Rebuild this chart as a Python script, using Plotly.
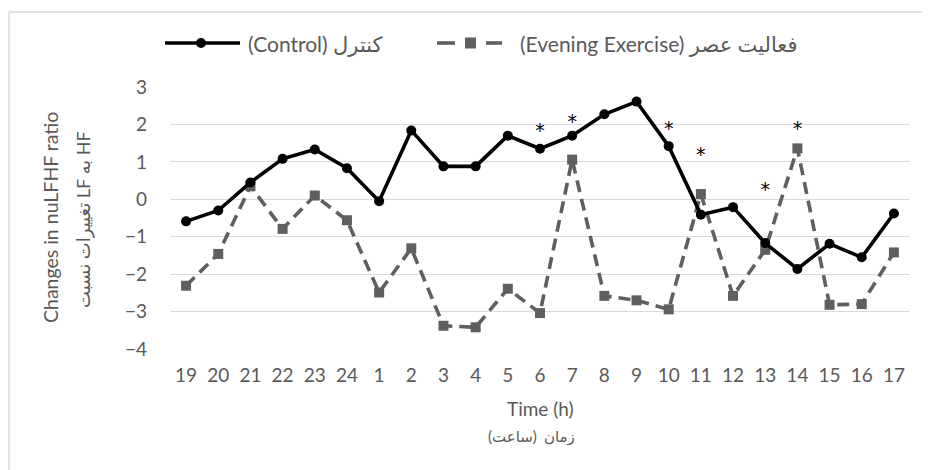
import plotly.graph_objects as go

hours = ["19", "20", "21", "22", "23", "24", "1", "2", "3", "4", "5", "6",
         "7", "8", "9", "10", "11", "12", "13", "14", "15", "16", "17"]
control = [-0.59, -0.30, 0.45, 1.08, 1.33, 0.83, -0.05, 1.84, 0.88, 0.88, 1.70, 1.35,
           1.70, 2.27, 2.61, 1.42, -0.41, -0.21, -1.17, -1.86, -1.19, -1.55, -0.38]
exercise = [-2.31, -1.46, 0.35, -0.79, 0.10, -0.56, -2.49, -1.31, -3.38, -3.42, -2.39, -3.04,
            1.06, -2.58, -2.70, -2.94, 0.14, -2.58, -1.35, 1.36, -2.82, -2.80, -1.42]
star_hours = ["6", "7", "10", "11", "13", "14"]
star_values = [1.94, 2.20, 2.00, 1.30, 0.37, 2.00]
y_ticks = [3, 2, 1, 0, -1, -2, -3, -4]

W, H = 930, 470
OFF = 8  # page body margin
# plot area in screen pixels
SL, ST, SR, SB = 170, 87, 910, 349
L, T = SL - OFF, ST - OFF
R, B = W - (SR - OFF), H - (SB - OFF)

def px(x):
    return (x - SL) / (SR - SL)

def py(y):
    return (SB - y) / (SB - ST)

FONT = "Lato, Calibri, 'DejaVu Sans', sans-serif"
GRAY = "#595959"
EXC = "#5f5f5f"

fig = go.Figure()
fig.add_trace(go.Scatter(
    x=hours, y=exercise, mode="lines+markers", name="exercise",
    line=dict(color=EXC, width=3.6, dash="12px,7px"),
    marker=dict(symbol="square", size=10, color=EXC),
    showlegend=False))
fig.add_trace(go.Scatter(
    x=hours, y=control, mode="lines+markers", name="control",
    line=dict(color="#000000", width=3.6),
    marker=dict(symbol="circle", size=10, color="#000000"),
    showlegend=False))
fig.add_trace(go.Scatter(
    x=star_hours, y=[v - 0.16 for v in star_values], mode="text", text=["*"] * len(star_hours),
    textfont=dict(family="'DejaVu Sans', sans-serif", size=19, color="#000000"), showlegend=False,
    hoverinfo="skip", cliponaxis=False))

shapes = []
# chart border (top and left)
shapes.append(dict(type="line", xref="paper", yref="paper", x0=px(9), x1=px(945), y0=py(12), y1=py(12),
                   line=dict(color="#e3e3e3", width=2)))
shapes.append(dict(type="line", xref="paper", yref="paper", x0=px(9), x1=px(9), y0=py(12), y1=py(485),
                   line=dict(color="#e3e3e3", width=2)))
# legend: control
ly = 43
shapes.append(dict(type="line", xref="paper", yref="paper", x0=px(165), x1=px(240), y0=py(ly), y1=py(ly),
                   line=dict(color="#000000", width=3.6)))
shapes.append(dict(type="circle", xref="paper", yref="paper", x0=px(196), x1=px(206), y0=py(ly - 5), y1=py(ly + 5),
                   fillcolor="#000000", line=dict(color="#000000", width=0)))
# legend: exercise
shapes.append(dict(type="line", xref="paper", yref="paper", x0=px(437), x1=px(455), y0=py(ly), y1=py(ly),
                   line=dict(color=EXC, width=3.6)))
shapes.append(dict(type="line", xref="paper", yref="paper", x0=px(486), x1=px(502), y0=py(ly), y1=py(ly),
                   line=dict(color=EXC, width=3.6)))
shapes.append(dict(type="rect", xref="paper", yref="paper", x0=px(465), x1=px(476), y0=py(ly - 5.5), y1=py(ly + 5.5),
                   fillcolor=EXC, line=dict(color=EXC, width=0)))

annotations = [
    dict(text="(Control) کنترل", x=px(246), y=py(ly + 1), xref="paper", yref="paper",
         xanchor="left", yanchor="middle", showarrow=False, font=dict(family=FONT, size=21, color=GRAY)),
    dict(text="(Evening Exercise) فعالیت عصر", x=px(518), y=py(ly + 1), xref="paper", yref="paper",
         xanchor="left", yanchor="middle", showarrow=False, font=dict(family=FONT, size=21, color=GRAY)),
    dict(text="Changes in nuLFHF ratio", x=px(50), y=py(218), xref="paper", yref="paper", textangle=-90,
         xanchor="center", yanchor="middle", showarrow=False, font=dict(family=FONT, size=19.5, color=GRAY)),
    dict(text="تغییرات نسبت LF به HF", x=px(83), y=py(220), xref="paper", yref="paper", textangle=-90,
         xanchor="center", yanchor="middle", showarrow=False, font=dict(family=FONT, size=18, color=GRAY)),
    dict(text="Time (h)", x=px(540), y=py(408), xref="paper", yref="paper",
         xanchor="center", yanchor="middle", showarrow=False, font=dict(family=FONT, size=19, color=GRAY)),
    # Persian x title laid out right-to-left: word on the right, parenthetical on the left
    dict(text="زمان", x=px(542), y=py(436), xref="paper", yref="paper",
         xanchor="left", yanchor="middle", showarrow=False, font=dict(family=FONT, size=15, color=GRAY)),
    dict(text="(ساعت)", x=px(539), y=py(436), xref="paper", yref="paper",
         xanchor="right", yanchor="middle", showarrow=False, font=dict(family=FONT, size=15, color=GRAY)),
]

fig.update_layout(
    width=W, height=H,
    margin=dict(l=L, r=R, t=T, b=B),
    paper_bgcolor="white", plot_bgcolor="white",
    showlegend=False,
    shapes=shapes, annotations=annotations,
    font=dict(family=FONT, color=GRAY),
    xaxis=dict(type="category", categoryorder="array", categoryarray=hours, range=[-0.5, 22.5],
               showgrid=False, showline=False, zeroline=False, ticks="",
               tickfont=dict(family=FONT, size=19, color=GRAY), ticklabelstandoff=13),
    yaxis=dict(range=[-4, 3], tickvals=y_ticks, showgrid=True, gridcolor="#d9d9d9", gridwidth=1,
               zeroline=False, showline=False, ticks="",
               tickfont=dict(family=FONT, size=19, color=GRAY), ticklabelstandoff=22),
)

fig.write_html("out.html")
